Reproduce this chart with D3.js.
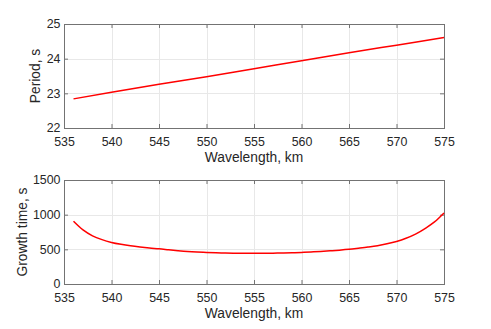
<!DOCTYPE html>
<html>
<head>
<meta charset="utf-8">
<script src="https://cdn.jsdelivr.net/npm/d3@7"></script>
<style>
  body { margin: 0; background: #fff; }
  text { font-family: "Liberation Sans", Arial, sans-serif; fill: #262626; }
  .grid line { stroke: #e8e8e8; stroke-width: 1; }
  .frame { fill: none; stroke: #737373; stroke-width: 1; }
</style>
</head>
<body>
<script>
// wavelength, km
var wavelength = [536, 537, 538, 539, 540, 541, 542, 543, 544, 545,
                  546, 547, 548, 549, 550, 551, 552, 553, 554, 555,
                  556, 557, 558, 559, 560, 561, 562, 563, 564, 565,
                  566, 567, 568, 569, 570, 571, 572, 573, 574, 575];

// period, s (read at every 5 km)
var periodX = [536, 540, 545, 550, 555, 560, 565, 570, 575];
var period  = [22.84, 23.03, 23.26, 23.48, 23.71, 23.94, 24.17, 24.39, 24.61];

// growth time, s
var growth = [905, 780, 695, 640, 600, 572, 550, 533, 519, 508,
              494, 480, 468, 460, 455, 450, 447, 444, 443, 442,
              443, 445, 447, 451, 456, 462, 469, 478, 488, 500,
              516, 533, 553, 580, 614, 660, 720, 800, 895, 1025];

var xTicks = [535, 540, 545, 550, 555, 560, 565, 570, 575];
var periodTicks = [22, 23, 24, 25];
var growthTicks = [0, 500, 1000, 1500];

var width = 491, height = 329;
var left = 64, right = 444;

var svg = d3.select("body").append("svg")
    .attr("width", width)
    .attr("height", height);

var x = d3.scaleLinear().domain([535, 575]).range([left, right]);

//draw one subplot
function panel(top, bottom, yDomain, yTicks, xs, ys, ylabel){
    var y = d3.scaleLinear().domain(yDomain).range([bottom, top]);
    var g = svg.append("g");

    //grid
    var grid = g.append("g").attr("class", "grid");
    grid.selectAll(".vx").data(xTicks.slice(1, -1)).enter().append("line")
        .attr("x1", function(d){ return Math.round(x(d)) + 0.5; })
        .attr("x2", function(d){ return Math.round(x(d)) + 0.5; })
        .attr("y1", top).attr("y2", bottom);
    grid.selectAll(".hy").data(yTicks.slice(1, -1)).enter().append("line")
        .attr("y1", function(d){ return Math.round(y(d)) + 0.5; })
        .attr("y2", function(d){ return Math.round(y(d)) + 0.5; })
        .attr("x1", left).attr("x2", right);

    //axes, ticks pointing inward on all four sides
    var axes = [
        g.append("g").attr("transform", "translate(0," + bottom + ")")
            .call(d3.axisBottom(x).tickValues(xTicks).tickFormat(d3.format("d")).tickSize(-4).tickPadding(9)),
        g.append("g").attr("transform", "translate(" + left + ",0)")
            .call(d3.axisLeft(y).tickValues(yTicks).tickFormat(d3.format("d")).tickSize(-4).tickPadding(3.5)),
        g.append("g").attr("transform", "translate(0," + top + ")")
            .call(d3.axisTop(x).tickValues(xTicks).tickSize(-4).tickFormat("")),
        g.append("g").attr("transform", "translate(" + right + ",0)")
            .call(d3.axisRight(y).tickValues(yTicks).tickSize(-4).tickFormat(""))
    ];
    axes.forEach(function(a){
        a.select(".domain").remove();
        a.selectAll("line").attr("stroke", "#737373");
        a.selectAll("text").attr("font-size", 12.4).attr("font-family", null).attr("fill", "#262626");
    });

    g.append("rect").attr("class", "frame")
        .attr("x", left + 0.5).attr("y", top + 0.5)
        .attr("width", right - left).attr("height", bottom - top);

    //data line
    var line = d3.line()
        .x(function(d){ return x(d[0]); })
        .y(function(d){ return y(d[1]); })
        .curve(d3.curveMonotoneX);
    g.append("path")
        .datum(d3.zip(xs, ys))
        .attr("d", line)
        .attr("fill", "none")
        .attr("stroke", "#ff0000")
        .attr("stroke-width", 1.5);

    //labels
    g.append("text")
        .attr("x", (left + right) / 2)
        .attr("y", bottom + 33.5)
        .attr("text-anchor", "middle")
        .attr("font-size", 13.8)
        .text("Wavelength, km");
    g.append("text")
        .attr("transform", "translate(" + (ylabel.x) + "," + ((top + bottom) / 2) + ") rotate(-90)")
        .attr("text-anchor", "middle")
        .attr("font-size", 13.8)
        .text(ylabel.text);
}

panel(24, 128, [22, 25], periodTicks, periodX, period, {x: 40, text: "Period, s"});
panel(180, 284, [0, 1500], growthTicks, wavelength, growth, {x: 27, text: "Growth time, s"});
</script>
</body>
</html>
